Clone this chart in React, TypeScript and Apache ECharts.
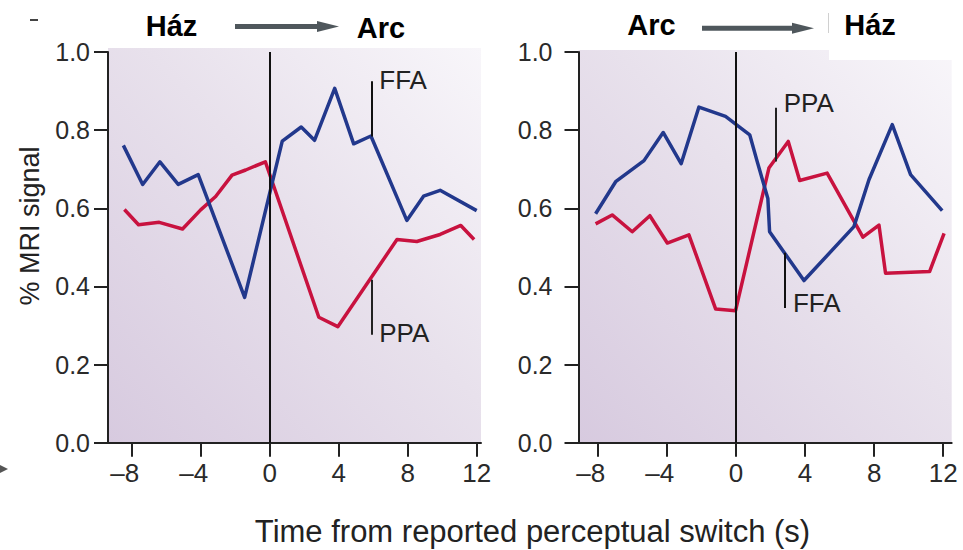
import React, { useEffect, useRef } from "react";
import * as echarts from "echarts";

// Time (s) relative to the reported perceptual switch, and % MRI signal values
// Left panel: switch from house (Ház) to face (Arc)
const leftFfaTime = [-8.48, -7.36, -6.36, -5.3, -4.14, -1.45, 0.73, 1.83, 2.6, 3.77, 4.87, 5.87, 7.95, 8.92, 9.88, 12.0];
const leftFfa = [0.761, 0.661, 0.719, 0.661, 0.686, 0.372, 0.772, 0.808, 0.774, 0.907, 0.765, 0.785, 0.569, 0.631, 0.646, 0.594];
const leftPpaTime = [-8.42, -7.6, -6.4, -5.05, -4.0, -3.13, -2.18, -1.39, -0.25, 2.85, 3.95, 7.38, 8.53, 9.88, 11.08, 11.85];
const leftPpa = [0.597, 0.558, 0.564, 0.547, 0.596, 0.63, 0.685, 0.698, 0.719, 0.321, 0.297, 0.52, 0.515, 0.533, 0.556, 0.52];

// Right panel: switch from face (Arc) to house (Ház)
const rightFfaTime = [-8.12, -6.96, -5.32, -4.21, -3.17, -2.14, -0.6, 0.8, 1.23, 1.85, 1.95, 3.94, 6.83, 7.7, 9.05, 10.11, 11.94];
const rightFfa = [0.586, 0.668, 0.722, 0.794, 0.714, 0.859, 0.835, 0.788, 0.72, 0.625, 0.54, 0.415, 0.553, 0.673, 0.814, 0.686, 0.594];
const rightPpaTime = [-8.12, -7.16, -6.0, -4.98, -3.97, -2.72, -1.17, -0.02, 1.91, 3.03, 3.69, 5.28, 7.35, 8.28, 8.66, 11.21, 12.05];
const rightPpa = [0.56, 0.583, 0.54, 0.581, 0.511, 0.532, 0.342, 0.338, 0.703, 0.771, 0.671, 0.69, 0.526, 0.557, 0.434, 0.438, 0.536];

// Tick values
const xTicks = [-8, -4, 0, 4, 8, 12];
const yTicks = [0, 0.2, 0.4, 0.6, 0.8, 1.0];

// Region labels: [time, top of leader, bottom of leader, label y]
const leftFfaTag = { t: 5.89, y0: 0.925, y1: 0.784, label: "FFA" };
const leftPpaTag = { t: 5.89, y0: 0.417, y1: 0.276, label: "PPA" };
const rightPpaTag = { t: 2.3, y0: 0.857, y1: 0.72, label: "PPA" };
const rightFfaTag = { t: 2.84, y0: 0.486, y1: 0.345, label: "FFA" };

const FONT = "'Liberation Sans', Arial, Helvetica, sans-serif";
const BLUE = "#22388c";
const RED = "#c8123f";
const INK = "#222";

const zip = (xs: number[], ys: number[]) => xs.map((x, i) => [x, ys[i]]);

function xAxisFor(gridIndex: number, min: number, max: number) {
  return {
    type: "value",
    gridIndex,
    min,
    max,
    splitLine: { show: false },
    axisLine: { show: true, onZero: false, lineStyle: { color: INK, width: 2 } },
    axisTick: { show: true, length: 14, customValues: xTicks, lineStyle: { color: INK, width: 2 } },
    axisLabel: {
      customValues: xTicks,
      margin: 17,
      color: "#2a2a2a",
      fontFamily: FONT,
      fontSize: 26,
      formatter: (v: number) => (v < 0 ? `{neg|\u2013${-v}}` : `{pos|${v}}`),
      rich: {
        neg: { fontFamily: FONT, fontSize: 26, color: "#2a2a2a", padding: [0, 14, 0, 0] },
        pos: { fontFamily: FONT, fontSize: 26, color: "#2a2a2a" },
      },
    },
  };
}

function yAxisFor(gridIndex: number, margin: number) {
  return {
    type: "value",
    gridIndex,
    min: 0,
    max: 1,
    splitLine: { show: false },
    axisLine: { show: true, onZero: false, lineStyle: { color: INK, width: 2 } },
    axisTick: { show: true, length: 14, customValues: yTicks, lineStyle: { color: INK, width: 2 } },
    axisLabel: {
      customValues: yTicks,
      margin,
      color: "#2a2a2a",
      fontFamily: FONT,
      fontSize: 25,
      formatter: (v: number) => v.toFixed(1),
    },
  };
}

function leader(tag: { t: number; y0: number; y1: number }) {
  return [{ coord: [tag.t, tag.y0] }, { coord: [tag.t, tag.y1] }];
}

function tagPoint(tag: { t: number; label: string }, y: number) {
  return {
    coord: [tag.t, y],
    symbolSize: 0,
    itemStyle: { color: "transparent" },
    label: {
      show: true,
      position: "right",
      distance: 8,
      formatter: tag.label,
      color: INK,
      fontFamily: FONT,
      fontSize: 26,
    },
  };
}

function lineSeries(name: string, idx: number, data: number[][], color: string, extra: any = {}) {
  return {
    name,
    type: "line",
    xAxisIndex: idx,
    yAxisIndex: idx,
    data,
    symbol: "none",
    lineStyle: { color, width: 3.5, join: "round" },
    z: 3,
    ...extra,
  };
}

const zeroLine = {
  silent: true,
  symbol: ["none", "none"],
  label: { show: false },
  lineStyle: { color: "#111", width: 2, type: "solid" },
  data: [{ xAxis: 0 }],
};

function leaderLines(tag: { t: number; y0: number; y1: number }) {
  return {
    silent: true,
    symbol: ["none", "none"],
    label: { show: false },
    lineStyle: { color: INK, width: 2, type: "solid" },
    data: [leader(tag)],
  };
}

function panelBackground(x: number, y: number, w: number, h: number) {
  return {
    type: "rect",
    z: -5,
    silent: true,
    shape: { x, y, width: w, height: h },
    style: {
      fill: new echarts.graphic.LinearGradient(0, 1, 1, 0, [
        { offset: 0, color: "#d7cadf" },
        { offset: 0.55, color: "#e8e1ec" },
        { offset: 1, color: "#f8f6fa" },
      ]),
    },
  };
}

function header(text: string, x: number, y: number) {
  return {
    type: "text",
    x,
    y,
    style: {
      text,
      fill: "#000",
      font: `bold 29px ${FONT}`,
      align: "center",
      verticalAlign: "middle",
    },
  };
}

function arrow(x0: number, x1: number, tip: number, y: number) {
  return [
    {
      type: "line",
      shape: { x1: x0, y1: y, x2: x1, y2: y },
      style: { stroke: "#4f575c", lineWidth: 5 },
    },
    {
      type: "polygon",
      shape: { points: [[tip - 22, y - 5.5], [tip, y], [tip - 22, y + 5.5]] },
      style: { fill: "#4f575c" },
    },
  ];
}

export default function App() {
  const ref = useRef<HTMLDivElement>(null);

  useEffect(() => {
    if (!ref.current) return;
    const chart = echarts.init(ref.current, null, { renderer: "svg" });

    const option: any = {
      animation: false,
      backgroundColor: "#ffffff",
      grid: [
        { left: 108, top: 52, width: 373, height: 390.7 },
        { left: 578.5, top: 52, width: 373.2, height: 390.7 },
      ],
      xAxis: [xAxisFor(0, -9.37, 12.25), xAxisFor(1, -9.11, 12.49)],
      yAxis: [yAxisFor(0, 18), yAxisFor(1, 26)],
      series: [
        lineSeries("PPA", 0, zip(leftPpaTime, leftPpa), RED, {
          markLine: leaderLines(leftPpaTag),
          markPoint: { silent: true, data: [tagPoint(leftPpaTag, 0.282)] },
        }),
        lineSeries("FFA", 0, zip(leftFfaTime, leftFfa), BLUE, {
          markLine: {
            ...zeroLine,
            data: [...zeroLine.data, leader(leftFfaTag)],
            lineStyle: { color: "#111", width: 2, type: "solid" },
          },
          markPoint: { silent: true, data: [tagPoint(leftFfaTag, 0.929)] },
        }),
        lineSeries("PPA", 1, zip(rightPpaTime, rightPpa), RED, {
          markLine: leaderLines(rightPpaTag),
          markPoint: { silent: true, data: [tagPoint(rightPpaTag, 0.869)] },
        }),
        lineSeries("FFA", 1, zip(rightFfaTime, rightFfa), BLUE, {
          markLine: {
            ...zeroLine,
            data: [...zeroLine.data, leader(rightFfaTag)],
          },
          markPoint: { silent: true, data: [tagPoint(rightFfaTag, 0.358)] },
        }),
      ],
      graphic: [
        panelBackground(108, 48, 373, 394.7),
        panelBackground(578.5, 50, 373.2, 392.7),
        // white patch over the top-right corner of the right panel
        { type: "rect", z: -4, silent: true, shape: { x: 829, y: 0, width: 134, height: 60 }, style: { fill: "#ffffff" } },
        { type: "line", shape: { x1: 828.5, y1: 13, x2: 828.5, y2: 33 }, style: { stroke: "#d0d0d0", lineWidth: 1 } },
        header("Ház", 171.5, 26),
        header("Arc", 381, 28),
        header("Arc", 651.5, 25),
        header("Ház", 870, 25),
        ...arrow(235, 322, 339, 26.5),
        ...arrow(702, 796, 814, 28.3),
        {
          type: "text",
          x: 30,
          y: 226,
          rotation: Math.PI / 2,
          style: {
            text: "% MRI signal",
            fill: INK,
            font: `27px ${FONT}`,
            align: "center",
            verticalAlign: "middle",
          },
        },
        {
          type: "text",
          x: 532.5,
          y: 531,
          style: {
            text: "Time from reported perceptual switch (s)",
            fill: INK,
            font: `31px ${FONT}`,
            align: "center",
            verticalAlign: "middle",
          },
        },
        // small marks at the left edge
        { type: "line", shape: { x1: 30, y1: 20, x2: 38, y2: 20 }, style: { stroke: "#444", lineWidth: 2 } },
        { type: "polygon", shape: { points: [[0, 465], [8, 469], [0, 473]] }, style: { fill: "#555" } },
      ],
    };

    chart.setOption(option);
    return () => chart.dispose();
  }, []);

  return (
    <div
      ref={ref}
      style={{ position: "absolute", left: 0, top: 0, width: 963, height: 550 }}
    />
  );
}
